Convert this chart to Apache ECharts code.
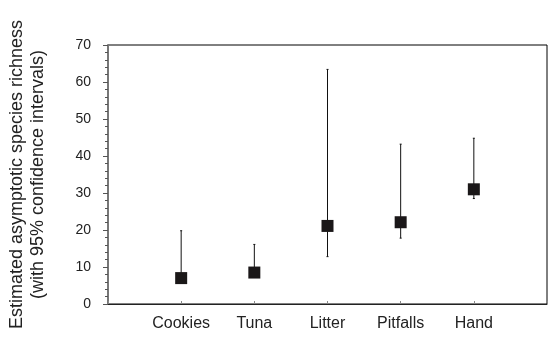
<!DOCTYPE html>
<html>
<head>
<meta charset="utf-8">
<script src="https://cdn.jsdelivr.net/npm/echarts@6/dist/echarts.min.js"></script>
<style>
html,body{margin:0;padding:0;background:#fff;}
#chart{width:548px;height:342px;}
</style>
</head>
<body>
<div id="chart"></div>
<script>
var categories = ['Cookies', 'Tuna', 'Litter', 'Pitfalls', 'Hand'];
var estimate = [7.0, 8.5, 21.1, 22.1, 31.0];
var lower = [6.0, 7.5, 12.8, 17.8, 28.5];
var upper = [19.8, 16.1, 63.4, 43.2, 44.8];
var yTicks = [0, 10, 20, 30, 40, 50, 60, 70];

var xData = [''].concat(categories).concat(['']);
var chart = echarts.init(document.getElementById('chart'), null, {renderer: 'canvas'});
var font = 'Liberation Sans, Arial, sans-serif';

var errData = categories.map(function (c, i) { return [c, lower[i], upper[i]]; });
var ptData = categories.map(function (c, i) { return [c, estimate[i]]; });

chart.setOption({
  animation: false,
  backgroundColor: '#fff',
  grid: {left: 108, right: 1, top: 45, bottom: 38, containLabel: false, outerBoundsMode: 'none',
         show: true, borderColor: '#000', borderWidth: 1},
  xAxis: {
    type: 'category',
    data: xData,
    boundaryGap: false,
    axisLine: {lineStyle: {color: '#222', width: 1}},
    axisTick: {show: true, inside: true, length: 3, interval: 0, lineStyle: {color: '#888'}},
    axisLabel: {interval: 0, fontSize: 16, color: '#222', fontFamily: font, margin: 12}
  },
  yAxis: {
    type: 'value',
    min: yTicks[0],
    max: yTicks[yTicks.length - 1],
    interval: 10,
    name: 'Estimated asymptotic species richness\n(with 95% confidence intervals)',
    nameLocation: 'middle',
    nameRotate: 90,
    nameGap: 59,
    nameTextStyle: {fontSize: 18, color: '#222', fontFamily: font, lineHeight: 21},
    axisLine: {show: true, lineStyle: {color: '#777', width: 2}},
    axisTick: {show: true, inside: false, length: 5, lineStyle: {color: '#555'}},
    minorTick: {show: true, splitNumber: 5, length: 3, lineStyle: {color: '#555'}},
    splitLine: {show: false},
    axisLabel: {fontSize: 14, color: '#222', fontFamily: font, margin: 17}
  },
  series: [
    {
      type: 'custom',
      data: errData,
      encode: {x: 0, y: [1, 2]},
      z: 2,
      renderItem: function (params, api) {
        var lo = api.coord([api.value(0), api.value(1)]);
        var hi = api.coord([api.value(0), api.value(2)]);
        return {
          type: 'group',
          children: [
            {type: 'line', shape: {x1: lo[0], y1: lo[1], x2: hi[0], y2: hi[1]}, style: {stroke: '#111', lineWidth: 1}},
            {type: 'line', shape: {x1: hi[0] - 1, y1: hi[1], x2: hi[0] + 1, y2: hi[1]}, style: {stroke: '#111', lineWidth: 1}},
            {type: 'line', shape: {x1: lo[0] - 1, y1: lo[1], x2: lo[0] + 1, y2: lo[1]}, style: {stroke: '#111', lineWidth: 1}}
          ]
        };
      }
    },
    {
      type: 'scatter',
      data: ptData,
      symbol: 'rect',
      symbolSize: 12,
      z: 3,
      itemStyle: {color: '#1a1718', opacity: 1}
    }
  ]
});
</script>
</body>
</html>
